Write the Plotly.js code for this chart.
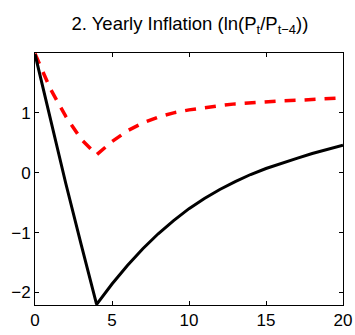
<!DOCTYPE html>
<html>
<head>
<meta charset="utf-8">
<script src="https://cdn.plot.ly/plotly-3.0.1.min.js"></script>
<style>html,body{margin:0;padding:0;background:#fff;}#chart{width:355px;height:335px;}</style>
</head>
<body>
<div id="chart"></div>
<script>
const quarters = [0,1,2,3,4,5,6,7,8,9,10,11,12,13,14,15,16,17,18,19,20];
const inflationBlack = [1.98,0.9,-0.18,-1.2,-2.2,-1.86,-1.55,-1.27,-1.02,-0.8,-0.6,-0.43,-0.28,-0.15,-0.03,0.07,0.16,0.24,0.32,0.39,0.46];
const inflationRed = [1.99,1.4,0.94,0.56,0.3,0.52,0.7,0.83,0.93,1.0,1.05,1.09,1.12,1.15,1.17,1.19,1.2,1.21,1.22,1.23,1.25];
const xTicks = [0,5,10,15,20];
const yTicks = [-2,-1,0,1];
const titleText = '2. Yearly Inflation (ln(P<sub>t</sub>/P<sub>t\u22124</sub>))';

const fam = 'Liberation Sans, Arial, sans-serif';
const font = {family: fam, size: 17, color: '#000'};
const axisCommon = {
  showline: true, linecolor: '#000', linewidth: 1, mirror: 'ticks',
  ticks: 'inside', ticklen: 4, tickwidth: 1, tickcolor: '#000',
  showgrid: false, zeroline: false, tickfont: font
};
Plotly.newPlot('chart', [
  {x: quarters, y: inflationRed, mode: 'lines', line: {color: '#ff0000', width: 3.5, dash: '11px,9px'}, hoverinfo: 'skip'},
  {x: quarters, y: inflationBlack, mode: 'lines', line: {color: '#000', width: 3}, hoverinfo: 'skip'}
], {
  width: 355, height: 335,
  margin: {l: 35, r: 12, t: 53, b: 30},
  paper_bgcolor: '#fff', plot_bgcolor: '#fff',
  showlegend: false,
  font: font,
  title: {text: titleText, font: {family: fam, size: 18.5, color: '#000'}, x: 0.535, xanchor: 'center', y: 0.93, yanchor: 'middle'},
  xaxis: Object.assign({}, axisCommon, {range: [0, 20], tickvals: xTicks}),
  yaxis: Object.assign({}, axisCommon, {range: [-2.21, 2.0], tickvals: yTicks})
}, {staticPlot: true});
</script>
</body>
</html>
